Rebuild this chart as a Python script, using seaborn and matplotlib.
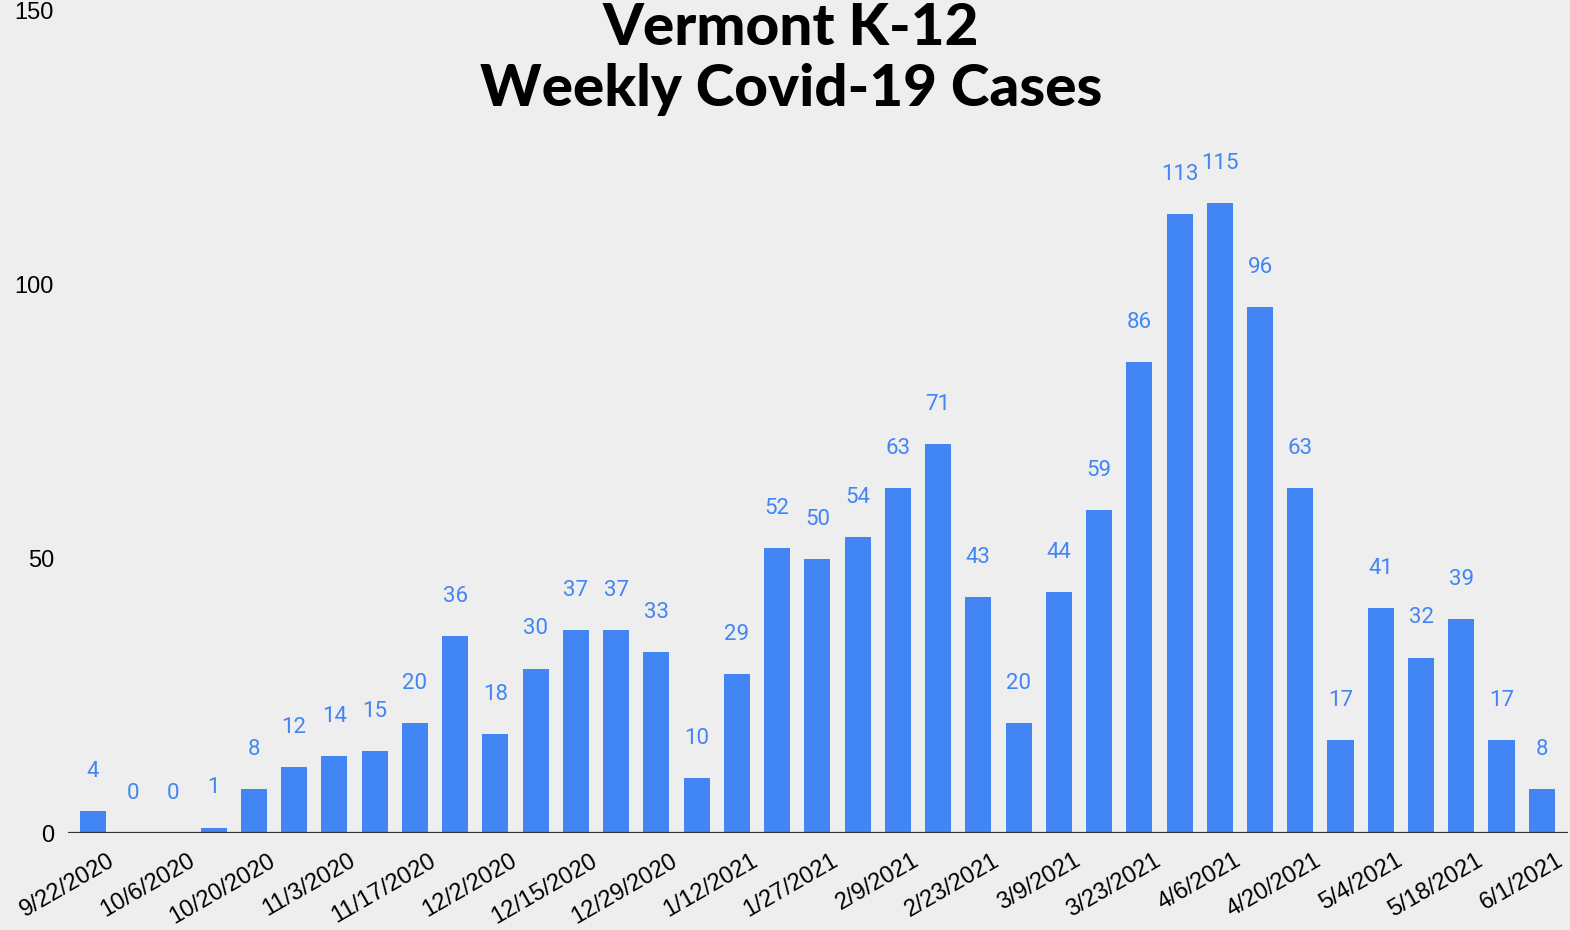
import matplotlib
matplotlib.use("Agg")
import matplotlib.pyplot as plt
import matplotlib.transforms as mtransforms
import seaborn as sns
import pandas as pd

# Weekly case counts
weeks = ["9/22/2020", "9/29/2020", "10/6/2020", "10/13/2020", "10/20/2020", "10/27/2020",
         "11/3/2020", "11/10/2020", "11/17/2020", "11/24/2020", "12/2/2020", "12/8/2020",
         "12/15/2020", "12/22/2020", "12/29/2020", "1/5/2021", "1/12/2021", "1/19/2021",
         "1/27/2021", "2/2/2021", "2/9/2021", "2/16/2021", "2/23/2021", "3/2/2021",
         "3/9/2021", "3/16/2021", "3/23/2021", "3/30/2021", "4/6/2021", "4/13/2021",
         "4/20/2021", "4/27/2021", "5/4/2021", "5/11/2021", "5/18/2021", "5/25/2021",
         "6/1/2021"]
cases = [4, 0, 0, 1, 8, 12, 14, 15, 20, 36, 18, 30, 37, 37, 33, 10, 29, 52, 50, 54,
         63, 71, 43, 20, 44, 59, 86, 113, 115, 96, 63, 17, 41, 32, 39, 17, 8]
yticks = [0, 50, 100, 150]

df = pd.DataFrame({"week": weeks, "cases": cases})

bg = "#eeeeee"
blue = "#4285f4"

sns.set_theme(style="white")
plt.rcParams["font.family"] = ["Liberation Sans", "DejaVu Sans"]

fig = plt.figure(figsize=(15.7, 9.3), dpi=100, facecolor=bg)
ax = fig.add_axes([0.0433, 0.1043, 0.9554, 0.8839], facecolor=bg)

sns.barplot(data=df, x="week", y="cases", color=blue, saturation=1, width=0.65,
            linewidth=0, edgecolor=blue, ax=ax)

ax.bar_label(ax.containers[0], labels=[str(v) for v in cases], padding=21,
             color=blue, fontsize=16, family="Roboto")

ax.axhline(0, color="#333333", lw=1.6, zorder=3)
ax.set_ylim(0, 150)
ax.set_xlim(-0.62, len(cases) - 0.35)
ax.set_yticks(yticks)
ax.set_yticklabels([str(t) for t in yticks], fontsize=17, family="Liberation Sans",
                   color="black")
ax.tick_params(axis="y", length=0, pad=10)

shown = list(range(0, len(weeks), 2))
ax.set_xticks(shown)
ax.set_xticklabels([weeks[i] for i in shown], fontsize=17, rotation=30,
                   ha="right", rotation_mode="anchor", family="Liberation Sans",
                   color="black")
ax.tick_params(axis="x", length=0, pad=12)
shift = mtransforms.ScaledTranslation(0.14, 0, fig.dpi_scale_trans)
for lab in ax.get_xticklabels():
    lab.set_transform(lab.get_transform() + shift)
ax.set_xlabel("")
ax.set_ylabel("")
for s in ax.spines.values():
    s.set_visible(False)

fig.text(0.504, 0.998, "Vermont K-12\nWeekly Covid-19 Cases", ha="center", va="top",
         fontsize=42, fontweight="black", family="Lato", color="black",
         linespacing=1.2)

fig.savefig("out.png", dpi=100, facecolor=bg)
